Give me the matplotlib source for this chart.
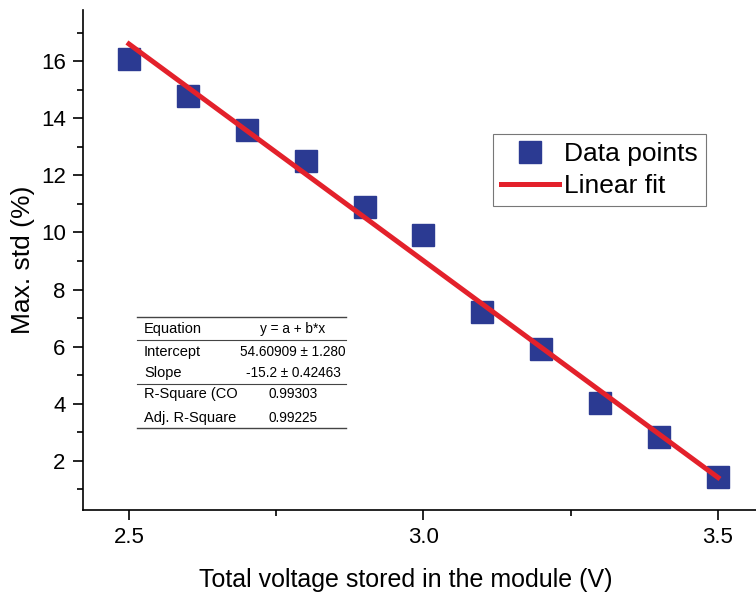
"""
Max. std vs total stored voltage, with linear fit and fit summary table.
"""

import matplotlib.pyplot as plt
import numpy as np
from matplotlib.lines import Line2D
from matplotlib.ticker import MultipleLocator

plt.rcParams['font.family'] = ['Liberation Sans', 'DejaVu Sans']

# Data
voltage = [2.5, 2.6, 2.7, 2.8, 2.9, 3.0, 3.1, 3.2, 3.3, 3.4, 3.5]
max_std = [16.08, 14.8, 13.6, 12.5, 10.9, 9.92, 7.2, 5.92, 4.03, 2.83, 1.43]

# Fit parameters
intercept = 54.60909
slope = -15.2

table_rows = [
    ("Equation", "y = a + b*x"),
    ("Intercept", "54.60909 \u00b1 1.280"),
    ("Slope", "-15.2 \u00b1 0.42463"),
    ("R-Square (CO", "0.99303"),
    ("Adj. R-Square", "0.99225"),
]

blue = '#2b3a92'
red = '#e3212b'

W, H = 756, 593
fig = plt.figure(figsize=(W / 100, H / 100), dpi=100)
ax = fig.add_axes([83 / W, 83 / H, 673 / W, 500 / H])

ax.plot(voltage, max_std, 's', color=blue, markersize=16.5, label='Data points', zorder=2)
x_fit = np.array([voltage[0], voltage[-1]])
ax.plot(x_fit, intercept + slope * x_fit, color=red, linewidth=3.6, label='Linear fit', zorder=3)

ax.set_xlim(2.422, 3.5645)
ax.set_ylim(0.27, 17.8)
ax.set_xticks([2.5, 3.0, 3.5])
ax.xaxis.set_minor_locator(MultipleLocator(0.25))
ax.set_yticks(range(2, 17, 2))
ax.yaxis.set_minor_locator(MultipleLocator(1))
ax.tick_params(which='major', length=7.5, width=1.2, labelsize=16, direction='out', pad=5)
ax.tick_params(which='minor', length=4, width=1.2, direction='out')
for side in ['top', 'right']:
    ax.spines[side].set_visible(False)
for side in ['left', 'bottom']:
    ax.spines[side].set_linewidth(1.2)

ax.set_xlabel("Total voltage stored in the module (V)", fontsize=18)
ax.xaxis.label.set_va('center')
ax.xaxis.set_label_coords((406 - 83) / 673, (510 - 580) / 500)
ax.set_ylabel("Max. std (%)", fontsize=19)
ax.yaxis.label.set_va('center')
ax.yaxis.set_label_coords((23 - 83) / 673, 0.5)

leg = ax.legend(loc='upper left', bbox_to_anchor=((493 - 83) / 673, (510 - 134) / 500),
                fontsize=19, frameon=True, fancybox=False, edgecolor='#555555',
                handlelength=2.2, handletextpad=0.2, borderpad=0.3, labelspacing=0.3,
                borderaxespad=0)
leg.get_frame().set_linewidth(0.8)

# Fit summary table (figure pixel coords converted to fractions)
tx0, tx1 = 137, 346
row_y = [329, 352, 373, 394, 418]
for (name, val), y in zip(table_rows, row_y):
    fig.text(144 / W, 1 - y / H, name, fontsize=10.5, va='center', ha='left')
    fig.text(293 / W, 1 - y / H, val, fontsize=9.8, va='center', ha='center')
fig.patches.append(plt.Rectangle((tx0 / W, 1 - 430 / H), (tx1 - tx0) / W, 113 / H,
                                 transform=fig.transFigure, facecolor='white',
                                 edgecolor='none', zorder=-1))
for y, lw in [(317, 1.0), (340, 0.8), (384, 0.8), (428, 1.0)]:
    fig.lines.append(Line2D([tx0 / W, tx1 / W], [1 - y / H, 1 - y / H],
                            transform=fig.transFigure, color='#444444', linewidth=lw))

fig.savefig("out.png", dpi=100)
